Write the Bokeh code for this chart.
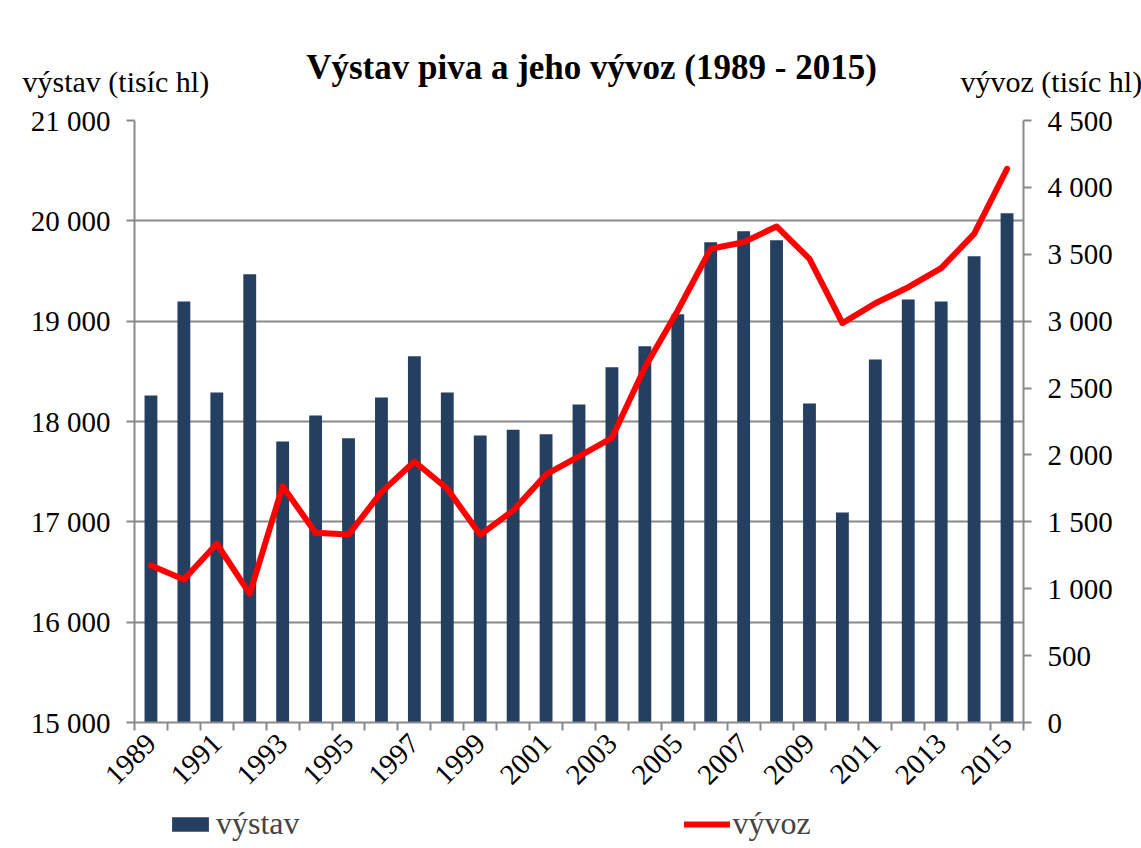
import math
from bokeh.plotting import figure
from bokeh.models import (Range1d, LinearAxis, FixedTicker, CustomJSTickFormatter,
                          Legend, LegendItem, Label)
from bokeh.embed import file_html
from bokeh.resources import INLINE

years = list(range(1989, 2016))
vystav = [18260, 19197, 18290, 19467, 17800, 18060, 17834, 18240, 18650, 18290,
          17861, 17918, 17873, 18170, 18540, 18750, 19068, 19786, 19895, 19806,
          18180, 17094, 18619, 19217, 19197, 19646, 20075]
vyvoz = [1174, 1069, 1336, 962, 1766, 1418, 1405, 1722, 1951, 1747,
         1403, 1585, 1854, 1990, 2128, 2654, 3080, 3541, 3590, 3708,
         3466, 2985, 3134, 3254, 3396, 3653, 4139]
left_ticks = [15000, 16000, 17000, 18000, 19000, 20000, 21000]
right_ticks = [0, 500, 1000, 1500, 2000, 2500, 3000, 3500, 4000, 4500]
label_years = list(range(1989, 2016, 2))

FONT = "Liberation Serif"
GRAY = "#898989"
BAR = "#253F60"
RED = "#FF0000"
W = 1141


def blank_fig(h):
    f = figure(width=W, height=h, output_backend="svg", toolbar_location=None,
               x_range=Range1d(0, W), y_range=Range1d(0, h), min_border=0,
               x_axis_location=None, y_axis_location=None)
    f.outline_line_color = None
    f.grid.visible = False
    return f


# ---- header: title and axis captions ----
top = blank_fig(100)
top.add_layout(Label(x=591, y=33, text="Výstav piva a jeho vývoz (1989 - 2015)",
                     text_align="center", text_baseline="alphabetic", text_font=FONT,
                     text_font_style="bold", text_font_size="35px", text_color="black"))
top.add_layout(Label(x=22, y=19, text="výstav (tisíc hl)", text_align="left",
                     text_baseline="alphabetic", text_font=FONT, text_font_size="30px",
                     text_color="black"))
top.add_layout(Label(x=960, y=19, text="vývoz (tisíc hl)", text_align="left",
                     text_baseline="alphabetic", text_font=FONT, text_font_size="30px",
                     text_color="black"))

# ---- main chart ----
p = figure(width=W, height=705, output_backend="svg", toolbar_location=None,
           x_range=Range1d(1988.5, 2015.5), y_range=Range1d(15000, 21000),
           min_border_left=134, min_border_right=118, min_border_top=20,
           min_border_bottom=83, x_axis_location=None, y_axis_location=None)
p.outline_line_color = None
p.xgrid.visible = False
p.ygrid.ticker = FixedTicker(ticks=left_ticks)
p.ygrid.grid_line_color = GRAY
p.ygrid.grid_line_width = 2

p.extra_y_ranges = {"exp": Range1d(0, 4500)}

fmt = CustomJSTickFormatter(code="return String(tick).replace(/\\B(?=(\\d{3})+(?!\\d))/g, ' ');")


def style_axis(ax):
    ax.axis_line_color = GRAY
    ax.axis_line_width = 2
    ax.major_tick_line_color = GRAY
    ax.major_tick_line_width = 2
    ax.minor_tick_line_color = GRAY
    ax.minor_tick_line_width = 2
    ax.major_label_text_font = FONT
    ax.major_label_text_font_size = "29px"
    ax.major_label_text_color = "black"


yl = LinearAxis(ticker=FixedTicker(ticks=left_ticks), formatter=fmt)
style_axis(yl)
yl.major_tick_out = 8
yl.major_tick_in = 0
yl.major_label_standoff = 16
p.add_layout(yl, "left")

yr = LinearAxis(y_range_name="exp", ticker=FixedTicker(ticks=right_ticks), formatter=fmt)
style_axis(yr)
yr.major_tick_out = 8
yr.major_tick_in = 0
yr.major_label_standoff = 16
p.add_layout(yr, "right")

xb = LinearAxis(ticker=FixedTicker(ticks=label_years,
                                   minor_ticks=[y - 0.5 for y in years] + [2015.5]))
style_axis(xb)
xb.major_tick_line_color = None
xb.major_tick_out = 0
xb.major_tick_in = 0
xb.minor_tick_out = 8
xb.minor_tick_in = 0
xb.major_label_orientation = math.pi / 4
xb.major_label_standoff = 8
p.add_layout(xb, "below")

bars = p.vbar(x=years, top=vystav, bottom=15000, width=0.39, fill_color=BAR,
              line_color=None)
line = p.line(years, vyvoz, y_range_name="exp", line_color=RED, line_width=6,
              line_join="round", line_cap="round")

# ---- legend strip (series kept off-view; only the legend swatches show) ----
leg = blank_fig(43)
lb = leg.vbar(x=years, top=vystav, bottom=15000, width=1, fill_color=BAR, line_color=None)
ll = leg.line(x=years, y=vyvoz, line_color=RED, line_width=6, line_cap="round")
legend = Legend(items=[LegendItem(label="výstav", renderers=[lb]),
                       LegendItem(label="vývoz", renderers=[ll])],
                location=(167, 6), orientation="horizontal",
                glyph_width=46, glyph_height=18, label_standoff=3, spacing=384,
                padding=0, margin=0, border_line_color=None,
                background_fill_alpha=0,
                label_text_font=FONT, label_text_font_size="32px")
leg.add_layout(legend, "center")

open("out.html", "w").write(file_html([top, p, leg], INLINE))
